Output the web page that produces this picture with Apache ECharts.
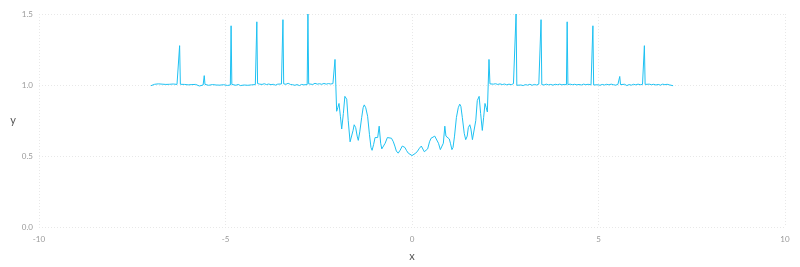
<!DOCTYPE html>
<html>
<head>
<meta charset="utf-8">
<script src="https://cdn.jsdelivr.net/npm/echarts@6/dist/echarts.min.js"></script>
<style>html,body{margin:0;padding:0;background:#fff}#c{width:800px;height:267px}</style>
</head>
<body>
<div id="c"></div>
<script>
const xs = [
-7.00,-6.95,-6.90,-6.85,-6.80,-6.75,-6.70,-6.65,-6.60,-6.55,-6.50,-6.45,-6.40,-6.35,-6.30,-6.25,-6.23,-6.21,-6.16,-6.10,-6.05,-6.00,-5.95,-5.90,-5.85,-5.80,-5.75,-5.70,-5.65,-5.60,-5.57,-5.55,-5.50,-5.45,-5.40,-5.35,-5.30,-5.25,-5.20,-5.15,-5.10,-5.05,-5.00,-4.95,-4.90,-4.87,-4.85,-4.83,-4.78,-4.72,-4.66,-4.60,-4.55,-4.50,-4.45,-4.40,-4.35,-4.30,-4.25,-4.20,-4.18,-4.16,-4.14,-4.08,-4.02,-3.96,-3.90,-3.84,-3.78,-3.72,-3.66,-3.60,-3.55,-3.50,-3.48,-3.46,-3.44,-3.38,-3.32,-3.26,-3.20,-3.14,-3.08,-3.02,-2.96,-2.90,-2.85,-2.81,-2.79,-2.77,-2.72,-2.66,-2.60,-2.54,-2.48,-2.42,-2.36,-2.30,-2.24,-2.18,-2.12,-2.09,
-2.064,-2.02,-1.99,-1.957,-1.92,-1.885,-1.84,-1.80,-1.75,-1.71,-1.66,-1.62,-1.58,-1.55,-1.51,-1.47,-1.44,-1.40,-1.35,-1.31,-1.28,-1.24,-1.19,-1.14,-1.10,-1.07,-1.03,-0.99,-0.95,-0.92,-0.88,-0.84,-0.81,-0.77,-0.72,-0.66,-0.61,-0.55,-0.50,-0.46,-0.42,-0.37,-0.32,-0.26,-0.23,-0.19,-0.15,-0.10,-0.05,0.00,
0.05,0.10,0.15,0.20,0.25,0.29,0.33,0.37,0.42,0.47,0.51,0.56,0.61,0.66,0.71,0.76,0.80,0.84,0.88,0.91,0.95,1.00,1.03,1.07,1.10,1.14,1.19,1.24,1.28,1.31,1.35,1.40,1.44,1.48,1.51,1.55,1.58,1.62,1.66,1.71,1.75,1.80,1.84,1.885,1.92,1.957,1.99,2.02,2.064,2.09,
2.12,2.18,2.24,2.30,2.36,2.42,2.48,2.54,2.60,2.66,2.72,2.77,2.79,2.81,2.86,2.92,2.98,3.04,3.10,3.16,3.22,3.28,3.34,3.40,3.44,3.46,3.48,3.54,3.60,3.66,3.72,3.78,3.84,3.90,3.96,4.02,4.08,4.14,4.16,4.18,4.24,4.30,4.36,4.42,4.48,4.54,4.60,4.66,4.72,4.80,4.83,4.85,4.87,4.92,4.98,5.04,5.10,5.16,5.22,5.28,5.34,5.40,5.46,5.52,5.55,5.57,5.59,5.64,5.70,5.76,5.82,5.88,5.94,6.00,6.06,6.12,6.18,6.21,6.23,6.25,6.30,6.36,6.42,6.48,6.54,6.60,6.66,6.72,6.78,6.84,6.90,6.95,7.00
];
const ys = [
0.995,1.000,1.005,1.002,1.008,1.003,1.006,1.000,1.004,0.998,1.005,1.002,1.007,1.001,1.004,1.003,1.277,1.005,1.008,1.004,1.006,1.001,0.996,1.003,0.998,1.004,0.997,0.993,1.002,1.000,1.066,1.004,1.007,0.998,1.005,1.003,1.008,1.000,1.004,0.999,1.006,1.002,1.004,0.997,1.003,1.000,1.417,1.004,1.007,0.998,1.004,0.996,1.003,1.000,1.006,0.998,1.004,1.001,1.007,1.003,1.000,1.445,1.010,1.006,1.004,1.009,1.003,1.007,1.002,1.005,0.999,1.006,1.002,1.007,1.002,1.460,1.008,1.005,1.012,1.004,1.002,0.998,1.003,0.996,1.004,1.001,1.008,1.003,1.500,1.008,1.010,1.004,1.012,1.006,1.009,1.005,1.011,1.006,1.010,1.007,1.010,1.005,
1.18,0.815,0.84,0.87,0.78,0.69,0.80,0.92,0.90,0.75,0.60,0.61,0.68,0.72,0.70,0.64,0.61,0.67,0.77,0.84,0.86,0.84,0.78,0.65,0.56,0.54,0.58,0.63,0.64,0.63,0.71,0.59,0.55,0.545,0.59,0.63,0.64,0.625,0.60,0.57,0.535,0.52,0.54,0.57,0.575,0.56,0.54,0.52,0.51,0.503,
0.508,0.52,0.535,0.555,0.57,0.56,0.53,0.52,0.55,0.60,0.625,0.63,0.64,0.63,0.59,0.545,0.55,0.59,0.71,0.64,0.63,0.62,0.59,0.545,0.56,0.64,0.77,0.84,0.865,0.85,0.77,0.66,0.615,0.64,0.70,0.72,0.69,0.615,0.605,0.75,0.89,0.92,0.80,0.68,0.77,0.87,0.84,0.81,1.18,1.008,
1.010,1.006,1.009,1.004,1.008,1.003,1.007,1.001,1.006,1.002,1.009,1.004,1.500,0.998,0.994,1.000,0.996,1.003,0.999,1.005,0.998,1.004,1.000,1.006,1.002,1.460,1.003,1.000,1.006,1.001,1.004,0.999,1.005,1.002,1.006,1.001,1.004,1.002,1.445,1.003,1.006,1.002,1.005,1.001,1.004,1.000,1.006,1.002,1.005,1.001,1.003,1.417,1.000,0.996,1.002,0.998,1.004,1.000,1.005,1.001,1.006,1.002,0.999,1.004,1.000,1.060,1.003,0.998,1.005,0.996,1.003,0.999,1.005,1.001,1.006,1.002,1.004,1.001,1.277,1.004,1.001,1.006,1.002,1.005,1.000,1.004,0.999,1.006,1.002,1.005,1.001,1.000,0.995
];
const xTicks = [-10, -5, 0, 5, 10];
const yTicks = [0, 0.5, 1, 1.5];

const data = xs.map((x, i) => [x, ys[i]]);
const chart = echarts.init(document.getElementById('c'), null, {renderer: 'canvas'});
const gridLine = {show: true, lineStyle: {color: '#e8e8e8', type: [1, 2], width: 1}};
chart.setOption({
  animation: false,
  grid: {left: 39, right: 15, top: 14, bottom: 40},
  xAxis: {
    type: 'value', min: xTicks[0], max: xTicks[xTicks.length - 1], interval: 5,
    name: 'x', nameLocation: 'middle', nameGap: 24,
    nameTextStyle: {color: '#555', fontSize: 11, fontFamily: 'Lato'},
    axisLine: {show: false}, axisTick: {show: false},
    axisLabel: {color: '#999', fontSize: 8, fontFamily: 'Lato', margin: 8},
    splitLine: gridLine
  },
  yAxis: {
    type: 'value', min: yTicks[0], max: yTicks[yTicks.length - 1], interval: 0.5,
    name: 'y', nameLocation: 'middle', nameGap: 18, nameRotate: 0,
    nameTextStyle: {color: '#555', fontSize: 11, fontFamily: 'Lato'},
    axisLine: {show: false}, axisTick: {show: false},
    axisLabel: {color: '#999', fontSize: 8, fontFamily: 'Lato', margin: 6, formatter: v => v.toFixed(1)},
    splitLine: gridLine
  },
  series: [{
    type: 'line', data: data, showSymbol: false, symbol: 'none',
    lineStyle: {color: '#1ec1f2', width: 1}
  }]
});
</script>
</body>
</html>
